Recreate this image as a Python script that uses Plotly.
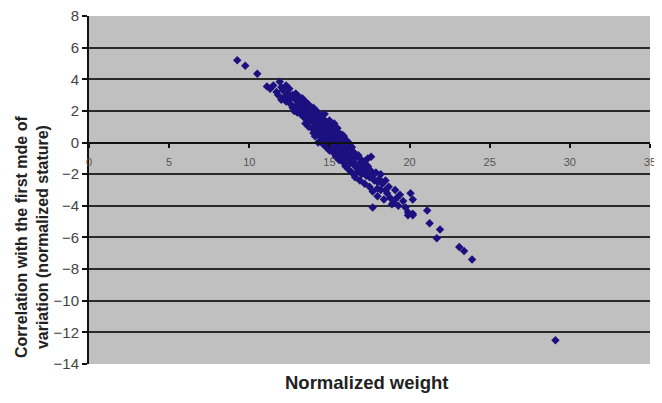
import plotly.graph_objects as go

# Normalized weight (x) and correlation with first mode of variation (y)
weight = [
    9.25, 9.75, 10.5, 11.1, 11.3, 11.5, 11.7, 11.9, 12.0, 11.8,
    12.1, 12.2, 12.3, 12.3, 12.4, 12.5, 12.5, 12.6, 12.7, 12.7, 12.8, 12.9, 12.9, 13.0, 13.0,
    13.1, 13.1, 13.2, 13.2, 13.3, 13.3, 13.4, 13.4, 13.5, 13.5, 13.5, 13.6, 13.6, 13.7, 13.7, 13.7,
    13.8, 13.8, 13.9, 13.9, 14.0, 14.0, 14.0,
    14.1, 14.1, 14.1, 14.2, 14.2, 14.2, 14.3, 14.3, 14.3, 14.4, 14.4, 14.4, 14.5, 14.5, 14.5, 14.5,
    14.6, 14.6, 14.6, 14.7, 14.7, 14.7, 14.8, 14.8, 14.8, 14.9, 14.9, 14.9, 15.0, 15.0, 15.0, 15.0,
    15.1, 15.1, 15.1, 15.2, 15.2, 15.2, 15.3, 15.3, 15.3, 15.4, 15.4, 15.4, 15.5, 15.5, 15.5, 15.5,
    15.6, 15.6, 15.6, 15.7, 15.7, 15.7, 15.8, 15.8, 15.8, 15.9, 15.9, 16.0, 16.0, 16.0,
    16.1, 16.1, 16.2, 16.2, 16.3, 16.3, 16.4, 16.4, 16.5, 16.5, 16.6, 16.6, 16.7, 16.8, 16.8,
    16.9, 16.9, 17.0, 17.0,
    17.1, 17.2, 17.2, 17.3, 17.4, 17.4, 17.5, 17.5, 17.6, 17.6, 17.7, 17.7, 17.8, 17.9, 18.0, 18.0,
    18.1, 18.2, 18.3, 18.4, 18.5, 18.6, 18.8, 18.7, 18.9, 19.0, 19.1, 19.3, 19.4, 19.6, 19.75,
    19.9, 19.9, 20.06, 20.2, 20.2, 20.2,
    16.5, 16.7, 17.0, 17.3, 17.8, 18.2, 18.5, 19.2, 18.0, 15.8, 16.3, 13.0, 12.0, 12.8, 14.3,
    14.6, 15.9, 16.4,
    21.1, 21.25, 21.9, 21.7, 23.1, 23.4, 23.9, 29.1,
]
stature = [
    5.2, 4.85, 4.35, 3.55, 3.4, 3.6, 3.2, 3.85, 3.5, 3.0,
    3.3, 2.9, 3.6, 2.6, 3.1, 2.7, 3.4, 2.4, 3.0, 2.2, 2.8, 3.1, 2.3, 2.6, 1.9,
    2.9, 2.2, 1.8, 2.5, 2.1, 2.8, 1.6, 2.3, 1.9, 2.6, 1.2, 2.1, 1.5, 2.4, 1.8, 1.0,
    1.4, 2.0, 1.7, 0.9, 2.2, 1.3, 0.6,
    1.9, 1.0, 0.4, 1.6, 0.8, 2.0, 1.2, 0.5, 1.8, 1.4, 0.7, 0.1, 1.7, 1.0, 0.3, 1.3,
    0.6, 1.5, -0.1, 1.1, 0.2, 1.8, 0.8, 1.3, -0.3, 0.5, 1.0, 0.0, 1.4, 0.6, -0.5, 0.2,
    1.1, 0.3, -0.2, 0.8, -0.6, 0.4, 1.2, 0.0, -0.4, 0.6, -0.9, 0.2, 0.9, -0.2, -0.7, 0.4,
    0.1, -1.1, 0.6, -0.4, 0.3, -0.9, 0.0, -0.6, 0.5, -1.3, -0.2, -0.8, 0.2, -1.5,
    -0.4, -1.0, 0.0, -1.7, -0.7, -1.3, -0.3, -1.9, -1.0, -0.6, -1.5, -2.2, -0.9, -1.7, -0.8,
    -2.4, -1.3, -2.0, -1.1,
    -1.6, -2.6, -1.2, -2.1, -1.5, -1.0, -2.8, -2.2, -1.8, -0.9, -3.1, -4.1, -2.4, -1.9, -2.9, -3.4,
    -2.3, -3.0, -2.6, -3.6, -2.4, -3.2, -3.5, -2.8, -3.9, -3.8, -3.0, -4.0, -3.3, -3.7, -4.1,
    -4.4, -4.6, -3.2, -3.6, -4.5, -4.6,
    -1.2, -1.9, -1.6, -1.8, -2.0, -2.0, -3.0, -3.5, -2.5, -1.0, -0.2, 2.9, 2.7, 2.0, 0.0,
    1.0, 0.4, -1.1,
    -4.3, -5.1, -5.5, -6.05, -6.6, -6.85, -7.4, -12.5,
]

x_ticks = [0, 5, 10, 15, 20, 25, 30, 35]
y_ticks = [-14, -12, -10, -8, -6, -4, -2, 0, 2, 4, 6, 8]

fig = go.Figure()
fig.add_trace(go.Scatter(
    x=weight, y=stature, mode="markers",
    marker=dict(symbol="diamond", size=6.5, color="#1c1080"),
    showlegend=False, hoverinfo="x+y",
))

fig.update_layout(
    width=654, height=387,
    margin=dict(l=81, r=12, t=8, b=31, autoexpand=False),
    paper_bgcolor="white",
    plot_bgcolor="#c0c0c0",
    font=dict(family="Liberation Sans, Arial, sans-serif", color="#333333"),
    xaxis=dict(
        range=[0, 35], tickvals=x_ticks, showgrid=False, zeroline=False,
        anchor="free", position=14 / 22, automargin=False,
        showline=True, linecolor="#111111", linewidth=2,
        ticks="outside", ticklen=4, tickwidth=2, tickcolor="#111111",
        ticklabelstandoff=5, ticklabeloverflow="allow",
        tickfont=dict(size=11, color="#555555"),
    ),
    yaxis=dict(
        range=[-14, 8], tickvals=y_ticks, showgrid=True, automargin=False,
        gridcolor="#2a2a2a", gridwidth=1.5,
        zeroline=True, zerolinecolor="#111111", zerolinewidth=2,
        showline=True, linecolor="#111111", linewidth=2,
        ticks="outside", ticklen=5, tickwidth=2, tickcolor="#111111",
        ticklabeloverflow="allow",
        tickfont=dict(size=15, color="#444444"),
    ),
    annotations=[
        dict(
            text="<b>Normalized weight</b>", xref="paper", yref="paper",
            x=0.494, y=-0.052, xanchor="center", yanchor="middle", showarrow=False,
            font=dict(size=18.5, color="#222222"),
        ),
        dict(
            text="<b>Correlation with the first mde of<br>variation (normalized stature)</b>",
            xref="paper", yref="paper", x=-0.1016, y=0.365, textangle=-90,
            xanchor="center", yanchor="middle", showarrow=False,
            font=dict(size=16, color="#222222"),
        ),
    ],
)

fig.write_html("out.html")
